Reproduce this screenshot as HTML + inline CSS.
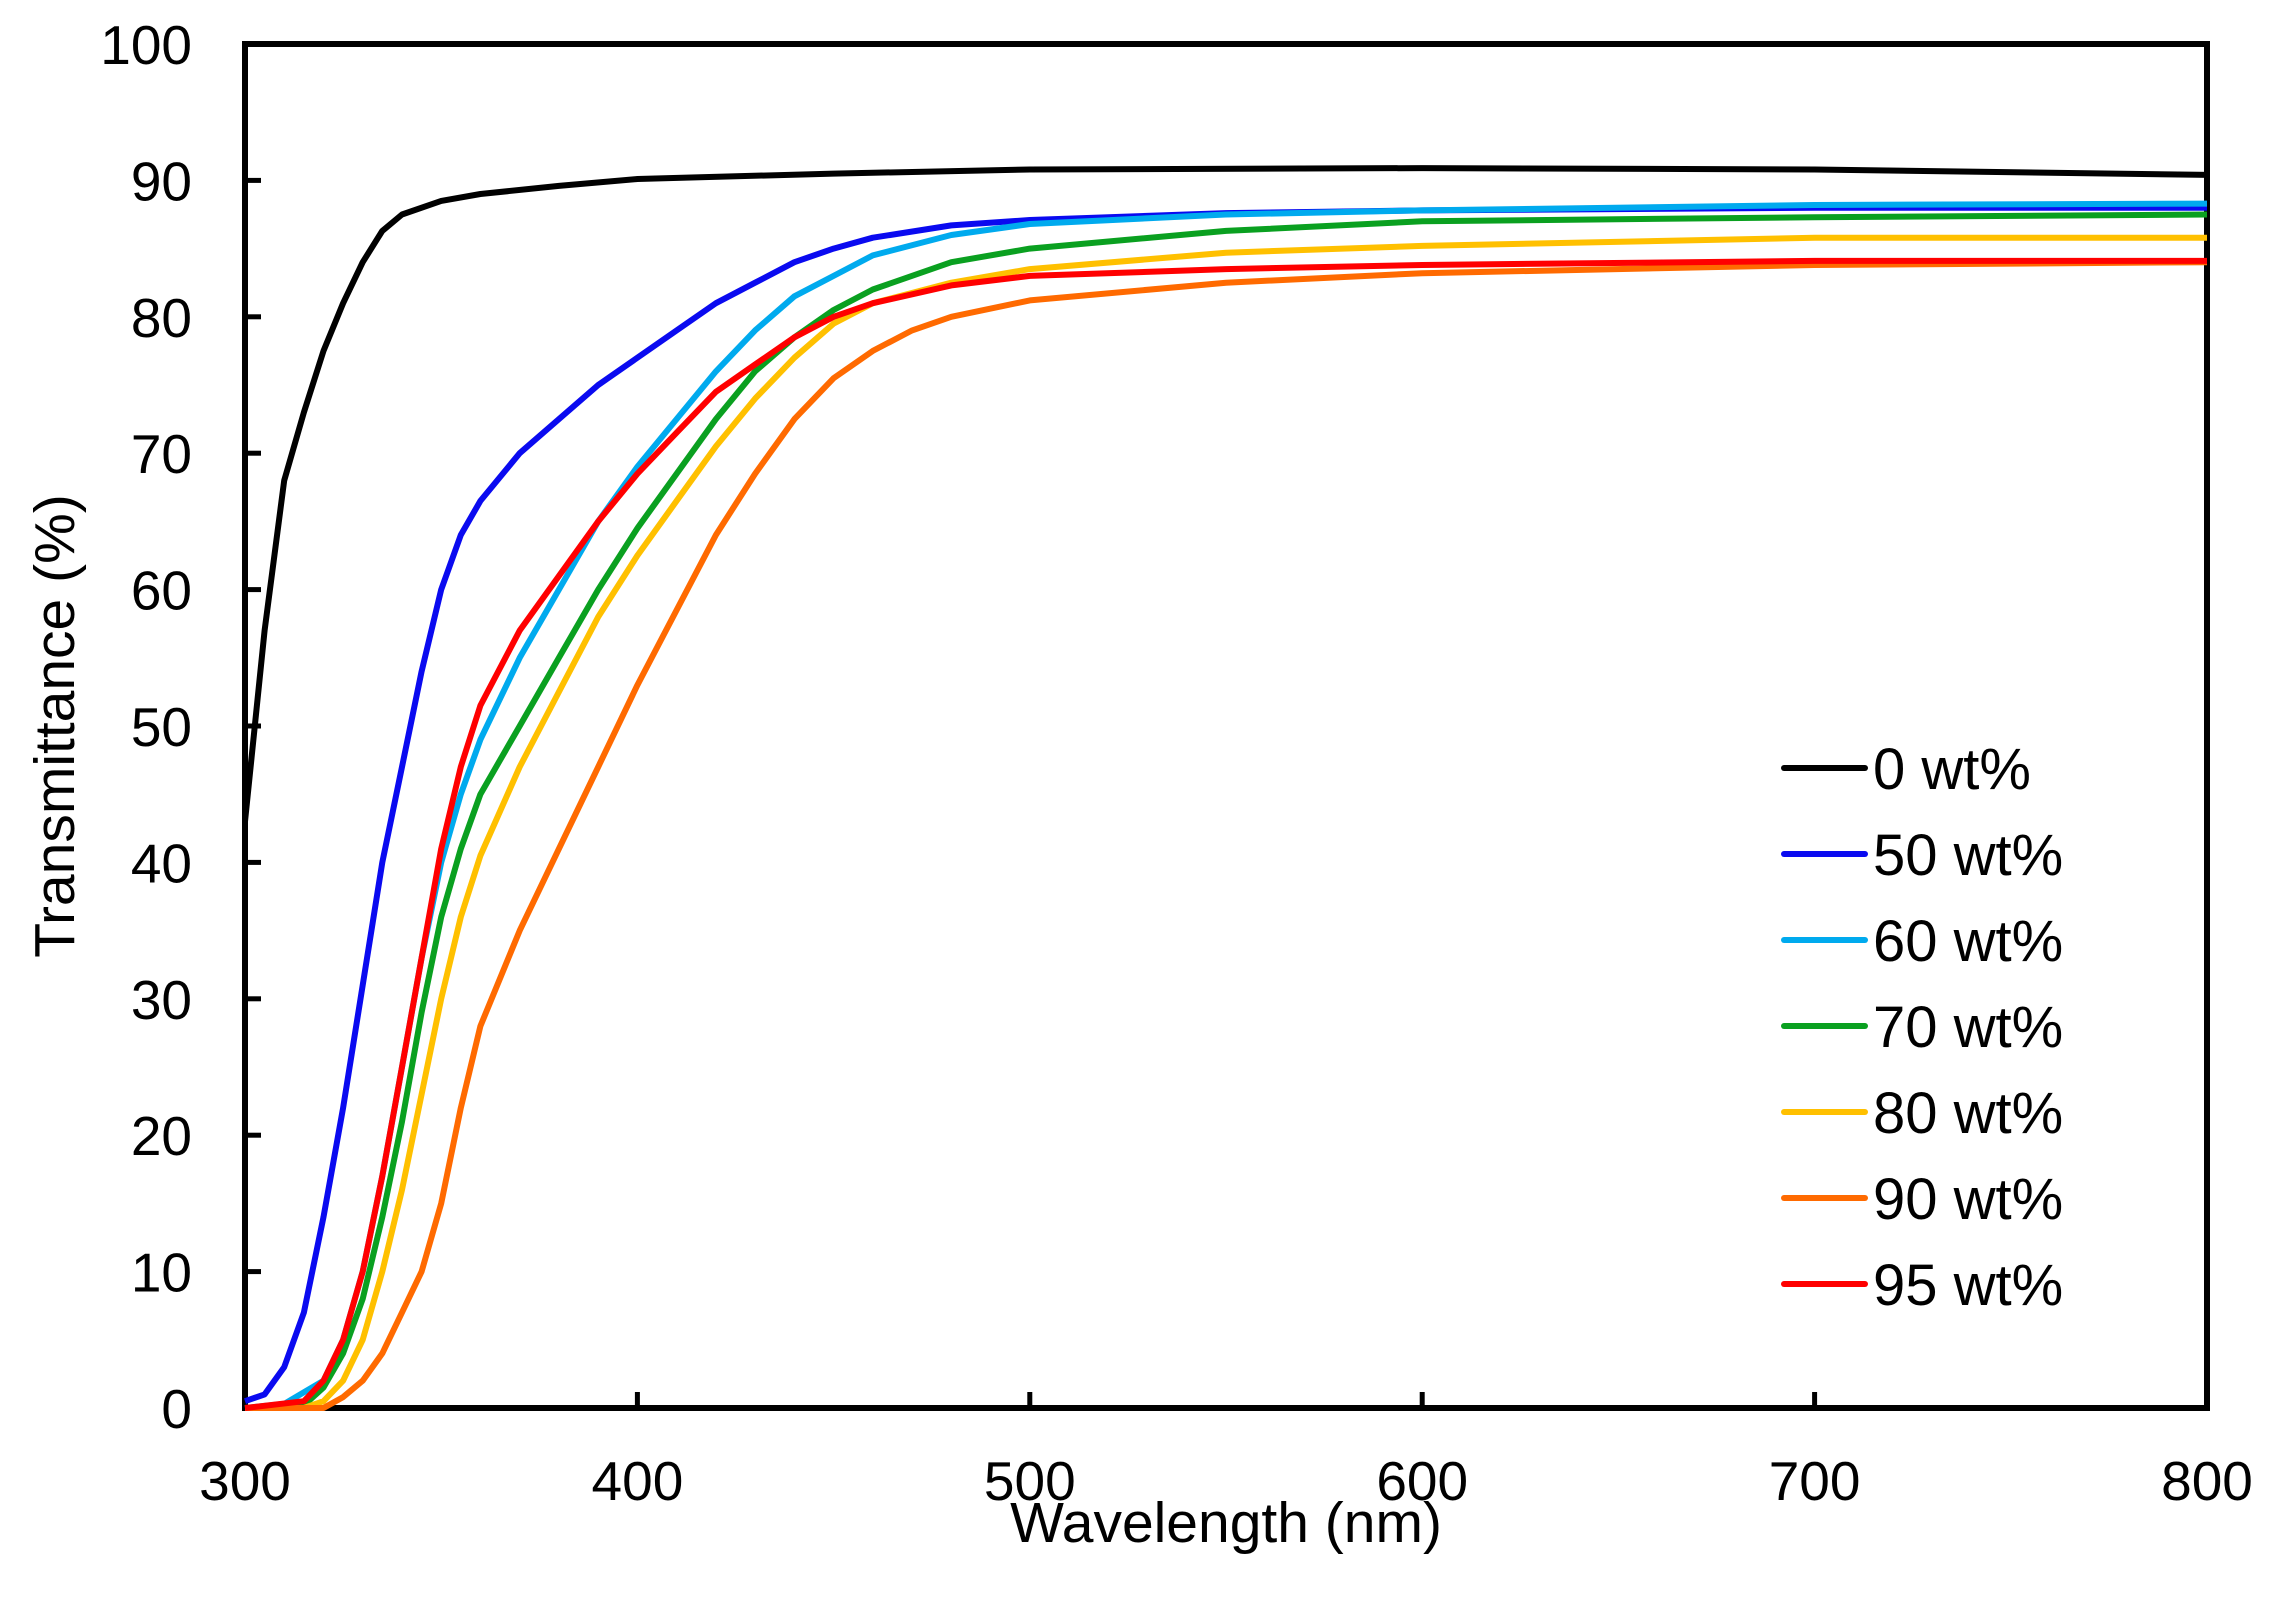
<!DOCTYPE html>
<html><head><meta charset="utf-8"><style>
html,body{margin:0;padding:0;background:#fff;}
svg{display:block;font-family:"Liberation Sans",Arial,sans-serif;}
</style></head><body>
<svg id="chart" width="2270" height="1611" viewBox="0 0 2270 1611" xmlns="http://www.w3.org/2000/svg">
<g id="axes"></g>
<g id="series"></g>
<g id="legend"></g>
<text x="1226" y="1542" font-size="57" text-anchor="middle">Wavelength (nm)</text>
<text transform="translate(74,726) rotate(-90)" font-size="57" text-anchor="middle">Transmittance (%)</text>
</svg>
<script>
const xTicks=[300,400,500,600,700,800];
const yTicks=[0,10,20,30,40,50,60,70,80,90,100];
const seriesNames=["0 wt%","50 wt%","60 wt%","70 wt%","80 wt%","90 wt%","95 wt%"];
const seriesColors=["#000000","#0a0af0","#00aaee","#0aa020","#ffc000","#ff6a00","#ff0000"];
const wl0=[300,305,310,315,320,325,330,335,340,350,360,380,400,450,500,600,700,800];
const t0=[43,57,68,73,77.5,81,84,86.3,87.5,88.5,89,89.6,90.1,90.5,90.8,90.9,90.8,90.4];
const wl50=[300,305,310,315,320,325,330,335,340,345,350,355,360,370,380,390,400,410,420,430,440,450,460,480,500,550,600,700,800];
const t50=[0.5,1,3,7,14,22,31,40,47,54,60,64,66.5,70,72.5,75,77,79,81,82.5,84,85,85.8,86.7,87.1,87.6,87.8,88,88];
const wl60=[300,310,320,325,330,335,340,345,350,355,360,370,380,390,400,410,420,430,440,450,460,480,500,550,600,700,800];
const t60=[0,0.3,2,5,10,17,25,33,40,45,49,55,60,65,69,72.5,76,79,81.5,83,84.5,86,86.8,87.5,87.8,88.2,88.3];
const wl70=[300,315,320,325,330,335,340,345,350,355,360,370,380,390,400,410,420,430,440,450,460,480,500,550,600,700,800];
const t70=[0,0.2,1.5,4,8,14,21,29,36,41,45,50,55,60,64.5,68.5,72.5,76,78.5,80.5,82,84,85,86.3,87,87.3,87.5];
const wl80=[300,315,320,325,330,335,340,345,350,355,360,370,380,390,400,410,420,430,440,450,460,480,500,550,600,700,800];
const t80=[0,0,0.5,2,5,10,16,23,30,36,40.5,47,52.5,58,62.5,66.5,70.5,74,77,79.5,81,82.5,83.5,84.7,85.2,85.8,85.8];
const wl90=[300,320,325,330,335,340,345,350,355,360,370,380,390,400,410,420,430,440,450,460,470,480,500,550,600,700,800];
const t90=[0,0,0.8,2,4,7,10,15,22,28,35,41,47,53,58.5,64,68.5,72.5,75.5,77.5,79,80,81.2,82.5,83.2,83.8,84];
const wl95=[300,315,320,325,330,335,340,345,350,355,360,370,380,390,400,410,420,430,440,450,460,480,500,550,600,700,800];
const t95=[0,0.5,2,5,10,17,25,33,41,47,51.5,57,61,65,68.5,71.5,74.5,76.5,78.5,80,81,82.3,83,83.5,83.8,84.1,84.1];
const allX=[wl0,wl50,wl60,wl70,wl80,wl90,wl95];
const allY=[t0,t50,t60,t70,t80,t90,t95];

const NS="http://www.w3.org/2000/svg";
const X0=245,X1=2207,Y0=1408,Y1=44;
const sx=v=>X0+(v-300)/500*(X1-X0);
const sy=v=>Y0-v/100*(Y0-Y1);
function mk(tag,attrs,parent){const e=document.createElementNS(NS,tag);for(const k in attrs)e.setAttribute(k,attrs[k]);parent.appendChild(e);return e;}
const axes=document.getElementById('axes');
const frame=mk('rect',{x:X0,y:Y1,width:X1-X0,height:Y0-Y1,fill:'none',stroke:'#000','stroke-width':6},axes);


xTicks.forEach(v=>{
  const t=mk('line',{x1:sx(v),x2:sx(v),y1:Y0,y2:Y0-16,stroke:'#000','stroke-width':5},axes);
  
  
  const l=mk('text',{x:sx(v),y:Y0+92,'font-size':55,'text-anchor':'middle'},axes);
  l.textContent=v;
  
  
});
yTicks.forEach(v=>{
  const t=mk('line',{x1:X0,x2:X0+16,y1:sy(v),y2:sy(v),stroke:'#000','stroke-width':5},axes);
  
  
  const l=mk('text',{x:192,y:sy(v)+20,'font-size':55,'text-anchor':'end'},axes);
  l.textContent=v;
  
  
});
const sg=document.getElementById('series');
const order=[1,2,3,4,5,6,0];
order.forEach(i=>{
  const d=allX[i].map((x,j)=>(j?'L':'M')+sx(x).toFixed(1)+','+sy(allY[i][j]).toFixed(1)).join('');
  const p=mk('path',{d:d,fill:'none',stroke:seriesColors[i],'stroke-width':6,'stroke-linejoin':'round'},sg);
  
  
});
const lg=document.getElementById('legend');
seriesNames.forEach((n,i)=>{
  const y=768+i*86;
  const g=mk('g',{},lg);
  
  
  mk('line',{x1:1784,x2:1865,y1:y,y2:y,stroke:seriesColors[i],'stroke-width':6,'stroke-linecap':'round'},g);
  const t=mk('text',{x:1873,y:y+21,'font-size':58},g);
  t.textContent=n;
});
</script>
</body></html>
